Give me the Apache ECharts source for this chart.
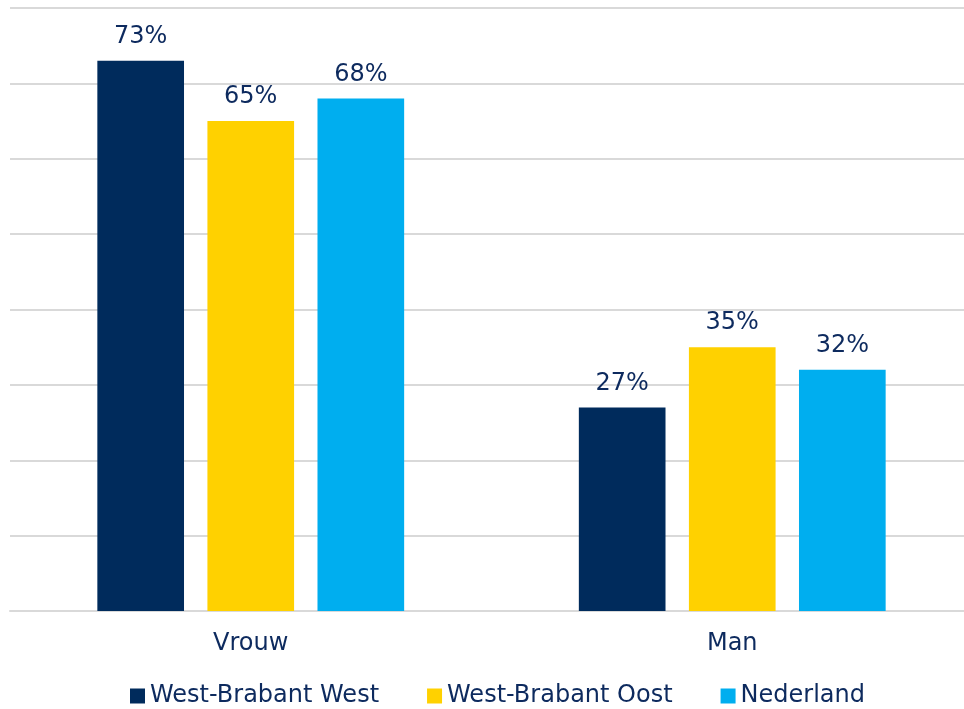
<!DOCTYPE html>
<html><head><meta charset="utf-8">
<script src="https://cdn.jsdelivr.net/npm/echarts@6/dist/echarts.min.js"></script>
<style>html,body{margin:0;padding:0;background:#fff}#c{width:964px;height:709px}</style>
</head><body><div id="c"></div>
<script>
const categories = ['Vrouw', 'Man'];
const seriesNames = ['West-Brabant West', 'West-Brabant Oost', 'Nederland'];
const westValues = [73, 27];
const oostValues = [65, 35];
const nederlandValues = [68, 32];
const colors = ['#002B5C', '#FFD100', '#00AEEF'];
const textColor = '#0D2A5E';
const font = 'Verdana, "DejaVu Sans", sans-serif';

const chart = echarts.init(document.getElementById('c'));
const data = [westValues, oostValues, nederlandValues];
chart.setOption({
  animation: false,
  grid: { left: 10, top: 8, width: 963, height: 603, containLabel: false, outerBoundsMode: 'none' },
  legend: {
    top: 684, left: 130, padding: 0,
    itemWidth: 15, itemHeight: 15, itemGap: 48,
    icon: 'rect',
    textStyle: { color: textColor, fontSize: 24, fontFamily: font },
    data: seriesNames
  },
  xAxis: {
    type: 'category', data: categories,
    axisLine: { lineStyle: { color: '#D9D9D9', width: 2 } },
    axisTick: { show: false },
    axisLabel: { color: textColor, fontSize: 24, fontFamily: font, margin: 21 }
  },
  yAxis: {
    type: 'value', min: 0, max: 80, interval: 10,
    axisLabel: { show: false },
    axisLine: { show: false }, axisTick: { show: false },
    splitLine: { lineStyle: { color: '#D9D9D9', width: 2 } }
  },
  series: seriesNames.map((n, i) => ({
    name: n, type: 'bar', data: data[i],
    barWidth: '18%', barGap: '27%',
    itemStyle: { color: colors[i] },
    label: { show: true, position: 'top', distance: 12, formatter: '{c}%', color: textColor, fontSize: 24, fontFamily: font }
  }))
});
</script></body></html>
